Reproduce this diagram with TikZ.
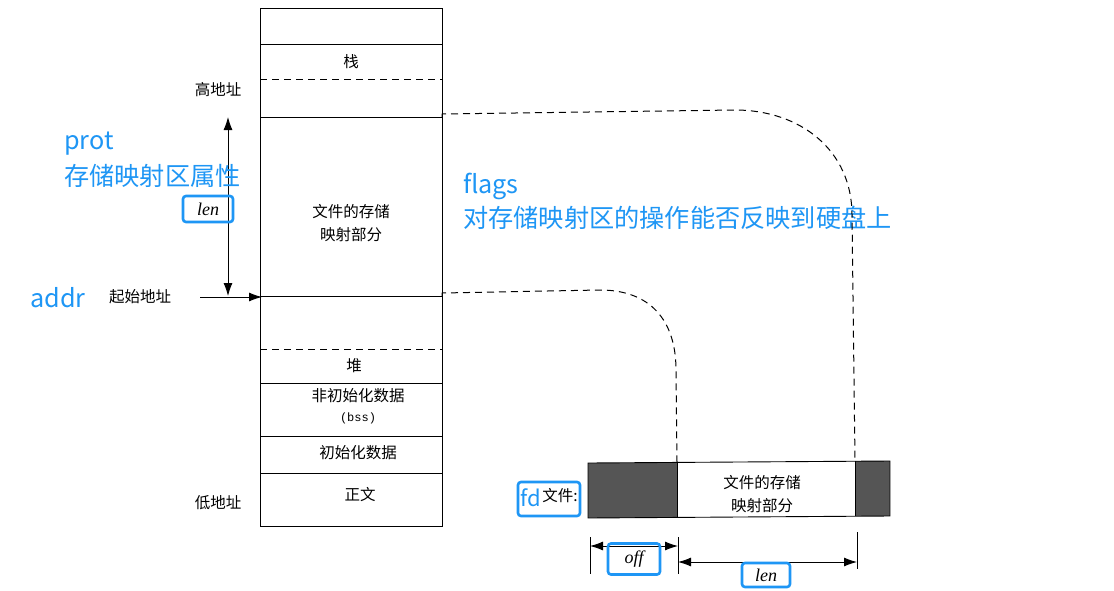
\documentclass[tikz,border=0pt]{standalone}
\usepackage{fontspec}
\setmainfont{Liberation Serif}
\newfontfamily\cjk{Noto Sans CJK SC}
\newfontfamily\bluefont{Noto Sans CJK SC}
\newfontfamily\monof{Liberation Mono}
\usetikzlibrary{arrows.meta}
\definecolor{hlblue}{RGB}{30,150,245}
\definecolor{darkfill}{RGB}{85,85,85}
\begin{document}
\begin{tikzpicture}[x=1pt,y=-1pt,
  lbl/.style={font=\cjk\fontsize{15.5}{18}\selectfont, inner sep=0pt, align=center},
  lbltwo/.style={font=\cjk\fontsize{15.5}{23}\selectfont, inner sep=0pt, align=center},
  note/.style={font=\bluefont\fontsize{25.2}{28}\selectfont, text=hlblue, inner sep=0pt, anchor=west},
  hbox/.style={draw=hlblue, line width=2.6pt, rounded corners=3pt, minimum height=26pt, inner sep=0pt},
  ital/.style={font=\itshape\fontsize{18}{20}\selectfont},
  wall/.style={line width=0.9pt},
  sep/.style={line width=0.9pt},
  dsep/.style={line width=0.9pt, dash pattern=on 7pt off 5pt},
  dconn/.style={line width=1pt, dash pattern=on 7pt off 5pt},
  arr/.style={line width=0.9pt, -{Latex[length=13pt,width=9pt]}},
  darr/.style={line width=0.9pt, {Latex[length=13pt,width=9pt]}-{Latex[length=13pt,width=9pt]}}
]
\useasboundingbox (0,0) rectangle (1114,590);
\fill[white] (0,0) rectangle (1114,590);

% memory column
\node[draw, wall, minimum width=182pt, minimum height=518pt, inner sep=0pt] (col) at (351,267) {};
\draw[sep] (260,44) -- (442,44);
\draw[dsep] (260,79) -- (442,79);
\draw[sep] (260,117) coordinate (mtopL) -- (442,117) coordinate (mtopR);
\draw[sep] (260,296) coordinate (mbotL) -- (442,296) coordinate (mbotR);
\draw[dsep] (260,349) -- (442,349);
\draw[sep] (260,383) -- (442,383);
\draw[sep] (260,436) -- (442,436);
\draw[sep] (260,473) -- (442,473);

\node[lbl] (stack) at (351,62) {栈};
\node[lbltwo] (mmap) at (351,223) {文件的存储\\映射部分};
\node[lbl] (heap) at (354,366) {堆};
\node[lbl] (bss) at (358,396) {非初始化数据};
\node[inner sep=0pt, font=\monof\fontsize{12}{13}\selectfont] (bssb) at (358,418) {(bss)};
\node[lbl] (data) at (358,453) {初始化数据};
\node[lbl] (text) at (360,495) {正文};

% left labels
\node[lbl] (hi) at (218,90) {高地址};
\node[lbl] (start) at (140,297) {起始地址};
\node[lbl] (lo) at (218,503) {低地址};

\coordinate (lenTop) at (228,117);
\coordinate (lenBot) at (228,296);
\draw[darr] (lenTop) -- (lenBot);
\coordinate (startArrS) at (200,297);
\coordinate (startArrE) at (262,297);
\draw[arr] (startArrS) -- (startArrE);

\node[hbox, ital, minimum width=50pt] (lenA) at (208,209) {len};

% blue notes
\node[note] (prot) at (64,144) {prot};
\node[note] (protd) at (64,176) {存储映射区属性};
\node[note] (addr) at (30,298) {addr};
\node[note] (flags) at (463,186) {flags};
\node[note] (flagsd) at (463,218) {对存储映射区的操作能否反映到硬盘上};

% file bar
\fill[darkfill] (588,463) rectangle (677,518);
\fill[darkfill] (855,461) rectangle (890,516);
\draw[line width=0.9pt] (588,463) -- (890,461) -- (890,516) -- (588,518) -- cycle;
\draw[line width=0.9pt] (677,462) -- (677,517);
\draw[line width=0.9pt] (855,461) -- (855,516);
\coordinate (fA) at (677,462);
\coordinate (fB) at (855,461);
\node[lbltwo] (fmmap) at (762,494) {文件的存储\\映射部分};

\node[hbox, minimum width=62pt, minimum height=34pt] (fdbox) at (549,499) {};
\node[inner sep=0pt, font=\bluefont\fontsize{22}{24}\selectfont, text=hlblue] (fd) at (531,498) {fd};
\node[lbl] (fl) at (560,496) {文件:};

% dimension lines
\draw[line width=0.8pt] (590,537) -- (590,574);
\draw[line width=0.8pt] (678,537) -- (678,574);
\draw[line width=0.8pt] (857,532) -- (857,569);
\coordinate (offL) at (590,546);
\coordinate (offR) at (678,546);
\draw[darr] (offL) -- (offR);
\coordinate (lenL) at (678,562);
\coordinate (lenR) at (857,562);
\draw[darr] (lenL) -- (lenR);
\node[hbox, ital, minimum width=52pt, minimum height=31pt] (offbox) at (634,559) {off};
\node[hbox, ital, minimum width=48pt, minimum height=24pt] (lenbox) at (766,575) {len};

% dashed connectors
\draw[dconn] (mtopR) -- (442,114) -- (735,110) .. controls (800,110) and (852,150) .. (852,215) -- (fB);
\draw[dconn] (mbotR) -- (442,293) -- (600,290) .. controls (650,290) and (676,320) .. (676,370) -- (fA);
\end{tikzpicture}
\end{document}
